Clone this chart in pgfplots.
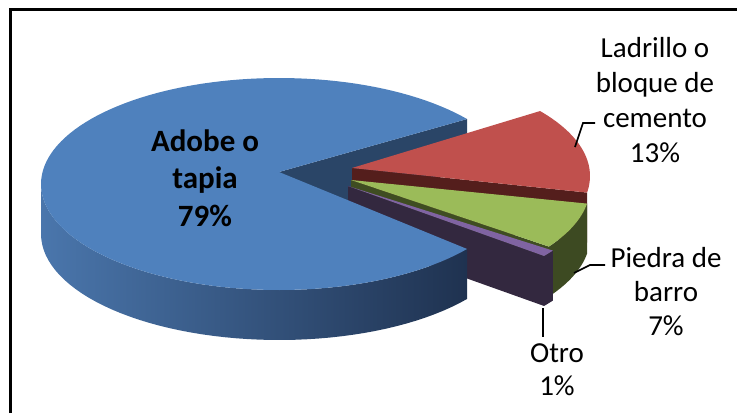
\documentclass[border=0pt]{standalone}
\usepackage{pgfplots}
\pgfplotsset{compat=1.18}
\usepackage{pgfplotstable}
\usepackage{fontspec}
\setmainfont{Carlito}

\definecolor{blueTop}{HTML}{4F81BD}
\definecolor{blueNotch}{HTML}{2A4567}
\definecolor{blueL}{HTML}{4A76AC}
\definecolor{blueM}{HTML}{2E4C72}
\definecolor{blueR}{HTML}{1F3250}
\definecolor{redTop}{HTML}{C0504D}
\definecolor{redDark}{HTML}{541E1C}
\definecolor{greenTop}{HTML}{9BBB59}
\definecolor{greenDark}{HTML}{3F4D22}
\definecolor{greenWall}{HTML}{3D4A22}
\definecolor{purpleTop}{HTML}{8064A2}
\definecolor{purpleDark}{HTML}{33283F}

\pgfplotstableread{
label pct
Adobe 79
Ladrillo 13
Piedra 7
Otro 1
}\piedata

\pgfplotstablegetelem{0}{pct}\of\piedata\let\pA\pgfplotsretval
\pgfplotstablegetelem{1}{pct}\of\piedata\let\pB\pgfplotsretval
\pgfplotstablegetelem{2}{pct}\of\piedata\let\pC\pgfplotsretval
\pgfplotstablegetelem{3}{pct}\of\piedata\let\pD\pgfplotsretval

\pgfmathsetmacro\aS{180-\pA*1.8}
\pgfmathsetmacro\aE{180+\pA*1.8}
\pgfmathsetmacro\aB{\aS-\pB*3.6}
\pgfmathsetmacro\aC{\aB-\pC*3.6}
\pgfmathsetmacro\aD{\aC-\pD*3.6}

\def\rx{238}\def\ry{106}\def\h{50}

\def\pts{}
\newcommand\startpts{\gdef\pts{}}
\newcommand\addpt[2]{\pgfmathsetmacro\px{#1}\pgfmathsetmacro\py{#2}\xdef\pts{\pts (\px,\py)}}
\newcommand\addarc[5]{\pgfmathsetmacro\stp{((#4)-(#3))/#5}\foreach \i in {0,...,#5}{\pgfmathsetmacro\ang{(#3)+\stp*\i}\pgfmathsetmacro\px{#1+\rx*cos(\ang)}\pgfmathsetmacro\py{#2-\ry*sin(\ang)}\xdef\pts{\pts (\px,\py)}}}
\newcommand\savepts[1]{\expandafter\xdef\csname #1\endcsname{\pts}}
\newcommand\plotpts[2]{\edef\tmp{\noexpand\addplot[\unexpanded{#1}] coordinates {#2};}\tmp}

% radial face: vertex (#1,#2), ellipse centre (#3,#4), angle #5
\newcommand\radial[5]{\startpts
  \addpt{#1}{#2}\addpt{#3+\rx*cos(#5)}{#4-\ry*sin(#5)}%
  \addpt{#3+\rx*cos(#5)}{#4-\ry*sin(#5)+\h}\addpt{#1}{#2+\h}}

% Blue (Adobe o tapia): ellipse centre (279,184), vertex (279,172)
\radial{279}{172}{279}{184}{\aS}\savepts{bNotch}
\startpts\addarc{279}{184}{180}{\aE}{50}\addarc{279}{184+\h}{\aE}{180}{50}\savepts{bSide}
\startpts\addpt{279}{172}\addarc{279}{184}{\aS}{\aE}{120}\savepts{bTop}
% Red (Ladrillo)
\radial{352}{168}{352}{176}{\aB}\savepts{rFace}
\startpts\addpt{352}{168}\addarc{352}{176}{\aS}{\aB}{40}\savepts{rTop}
% Green (Piedra)
\radial{351}{180}{352}{187}{\aC}\savepts{gFace}
\startpts\addarc{352}{187}{\aC}{\aB}{20}\addarc{352}{187+\h}{\aB}{\aC}{20}\savepts{gWall}
\startpts\addpt{351}{180}\addarc{352}{187}{\aB}{\aC}{30}\savepts{gTop}
% Purple (Otro)
\radial{348}{186}{356}{191}{\aD}\savepts{pFace}
\startpts\addarc{356}{191}{\aD}{\aC}{6}\addarc{356}{191+\h}{\aC}{\aD}{6}\savepts{pWall}
\startpts\addpt{348}{186}\addarc{356}{191}{\aC}{\aD}{6}\savepts{pTop}

\begin{document}
\begin{tikzpicture}
\begin{axis}[hide axis, scale only axis, width=737pt, height=413pt,
  xmin=0, xmax=737, ymin=0, ymax=413, y dir=reverse, clip=false]
\plotpts{fill=blueNotch, draw=none}{\bNotch}
\plotpts{fill=redDark, draw=none}{\rFace}
\plotpts{fill=redTop, draw=none}{\rTop}
\plotpts{fill=greenDark, draw=none}{\gFace}
\plotpts{fill=greenWall, draw=none}{\gWall}
\plotpts{fill=greenTop, draw=none}{\gTop}
\plotpts{fill=purpleDark, draw=none}{\pFace}
\plotpts{fill=purpleDark, draw=none}{\pWall}
\plotpts{fill=purpleTop, draw=none}{\pTop}
\plotpts{draw=none, left color=blueL, middle color=blueM, right color=blueR}{\bSide}
\plotpts{fill=blueTop, draw=none}{\bTop}

\addplot[black, line width=1.6pt] coordinates {(575,147) (583,123) (595,123)};
\addplot[black, line width=1.6pt] coordinates {(574,273) (590,265) (605,265)};
\addplot[black, line width=1.6pt] coordinates {(543,308) (543,337)};

\draw[black, line width=2.7pt] (axis cs:10.3,413) -- (axis cs:10.3,9.3) -- (axis cs:737,9.3);

\node[align=center, font=\fontsize{31}{37.5}\selectfont\bfseries] at (axis cs:205,178) {Adobe o\\tapia\\79\%};
\node[align=center, font=\fontsize{29}{35}\selectfont] at (axis cs:655,100) {Ladrillo o\\bloque de\\cemento\\13\%};
\node[align=center, font=\fontsize{29}{34}\selectfont] at (axis cs:666,292) {Piedra de\\barro\\7\%};
\node[align=center, font=\fontsize{29}{33}\selectfont] at (axis cs:557,370) {Otro\\1\%};
\end{axis}
\pgfresetboundingbox
\path (current axis.south west) rectangle (current axis.north east);
\end{tikzpicture}
\end{document}
